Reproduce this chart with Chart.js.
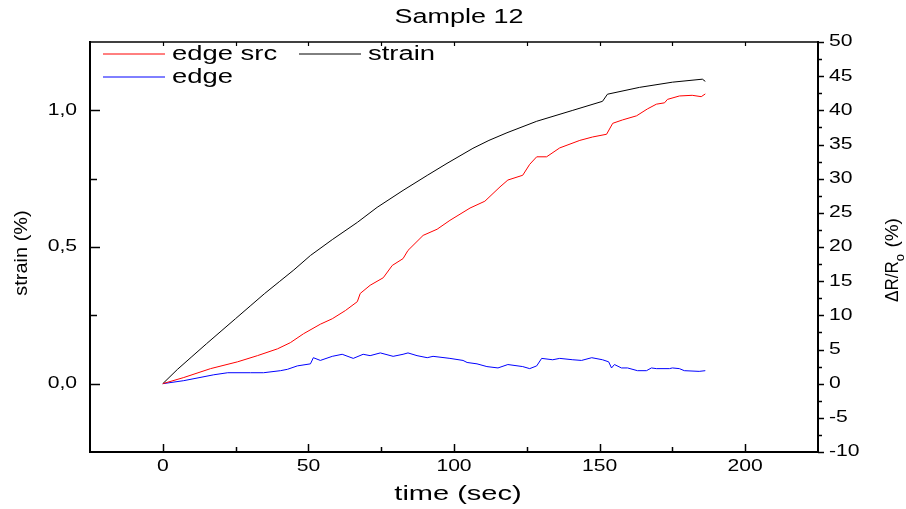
<!DOCTYPE html>
<html>
<head>
<meta charset="utf-8">
<script src="https://cdn.jsdelivr.net/npm/chart.js@4/dist/chart.umd.min.js"></script>
<style>
html,body{margin:0;padding:0;background:#fff;}
#wrap{width:906px;height:509px;position:relative;}
</style>
</head>
<body>
<div id="wrap"><canvas id="c" width="906" height="509"></canvas></div>
<script>
// ---- data ----
const strainTime   = [0,5,10,15,20,25,30,35,40,45,50.7,58.2,66.8,73.6,82.5,90.8,97.6,106.5,112,118.2,128.4,140.8,151.0,152.7,163.7,175.0,185.3,186.3];
const strainValues = [0,0.052,0.099,0.146,0.192,0.238,0.284,0.330,0.373,0.416,0.469,0.527,0.590,0.645,0.707,0.762,0.806,0.861,0.890,0.918,0.960,1.000,1.033,1.059,1.084,1.103,1.114,1.106];

const edgeSrcTime   = [0,7.2,16.4,25.7,32.5,39.4,43.8,48.3,54.1,58.2,62.7,66.8,67.8,71.2,75.7,78.8,82.5,84.2,89.4,94.2,98.6,105.5,110.6,115.8,118.5,123.6,126.0,128.4,131.8,136.3,143.2,147.6,152.4,154.5,157.9,162.7,166.4,169.5,172.3,173.3,177.4,181.8,184.9,186.3];
const edgeSrcValues = [0,0.9,2.2,3.2,4.1,5.1,6.0,7.3,8.7,9.5,10.7,12.0,13.2,14.4,15.5,17.3,18.3,19.5,21.7,22.6,23.9,25.7,26.7,28.8,29.8,30.5,32.1,33.2,33.2,34.5,35.6,36.1,36.5,38.1,38.6,39.2,40.2,40.9,41.1,41.6,42.1,42.2,42.0,42.4];

const edgeTime   = [0,7.2,17.5,22.3,30.1,34.6,40.4,42.8,46.2,50.7,51.7,54.1,58.2,61.6,65.4,68.8,71.2,74.7,79.1,82.5,84.2,87.3,90.8,92.8,98.6,103.1,104.5,107.9,111.3,115.1,118.5,123.6,126.0,128.4,130.1,133.9,136.3,140.8,143.8,147.3,151.0,153.1,154.1,155.1,157.5,159.6,163.0,166.1,167.8,169.5,174.0,175.0,177.4,179.1,184.2,186.3];
const edgeValues = [0,0.44,1.3,1.6,1.6,1.6,1.9,2.1,2.6,2.9,3.8,3.4,4.0,4.3,3.7,4.3,4.1,4.5,4.0,4.3,4.5,4.1,3.8,4.0,3.7,3.4,3.1,2.9,2.5,2.3,2.8,2.5,2.2,2.6,3.7,3.5,3.7,3.5,3.4,3.8,3.5,3.2,2.3,2.8,2.3,2.3,1.9,1.9,2.3,2.2,2.2,2.3,2.2,1.9,1.8,1.9];

const xTicks  = [0,50,100,150,200];
const xTickLabels = ['0','50','100','150','200'];
const yTicks  = [0,0.5,1.0];
const yTickLabels = ['0,0','0,5','1,0'];
const y2Ticks = [-10,-5,0,5,10,15,20,25,30,35,40,45,50];
const y2TickLabels = ['-10','-5','0','5','10','15','20','25','30','35','40','45','50'];

const titleText = 'Sample 12';
const xTitle = 'time (sec)';
const yTitle = 'strain (%)';
const seriesNames = ['edge src','strain','edge'];

function pts(t,v){ return t.map((x,i)=>({x:x,y:v[i]})); }

const FONT = '"Liberation Sans", Arial, sans-serif';
function txt(ctx,s,x,y,size,align,sx,rot){
  ctx.save();
  ctx.translate(x,y);
  if(rot) ctx.rotate(rot);
  ctx.scale(sx,1);
  ctx.font = size+'px '+FONT;
  ctx.textAlign = align;
  ctx.textBaseline = 'middle';
  ctx.fillStyle = '#000';
  ctx.fillText(s,0,0);
  ctx.restore();
}
function line(ctx,x1,y1,x2,y2,w,c){
  ctx.beginPath(); ctx.lineWidth=w; ctx.strokeStyle=c||'#000';
  ctx.moveTo(x1,y1); ctx.lineTo(x2,y2); ctx.stroke();
}

const decor = {
  id:'decor',
  afterDraw(chart){
    const ctx = chart.ctx;
    const a = chart.chartArea;
    const xs = chart.scales.x, ys = chart.scales.y, y2 = chart.scales.y2;
    ctx.save();
    ctx.lineCap = 'butt';
    // frame
    line(ctx,a.left,a.top,a.right,a.top,1.5);
    line(ctx,a.left,a.top-1,a.left,a.bottom+1,2);
    line(ctx,a.left-1,a.bottom,a.right+1,a.bottom,2);
    line(ctx,a.right,a.top-1,a.right,a.bottom+1,2);
    // x ticks (bottom inward, top inward short)
    for(let v=-25; v<=225; v+=25){
      const px = Math.round(xs.getPixelForValue(v))+0.5;
      if(v===-25||v===225) continue;
      const major = (v%50===0);
      line(ctx,px,a.bottom,px,a.bottom-(major?8:5),1.5);
      line(ctx,px,a.top,px,a.top+4,1.2);
    }
    // left ticks inward
    for(let v=-0.25; v<=1.2501; v+=0.25){
      const py = Math.round(ys.getPixelForValue(v))+0.5;
      if(Math.abs(v+0.25)<1e-6||Math.abs(v-1.25)<1e-6) continue;
      const major = Math.abs(v*2-Math.round(v*2))<1e-6;
      line(ctx,a.left,py,a.left+(major?10:7),py,1.5);
    }
    // right ticks outward
    for(let v=-10; v<=50.001; v+=2.5){
      const py = Math.round(y2.getPixelForValue(v))+0.5;
      const major = (Math.abs(v%5)<1e-6);
      line(ctx,a.right,py,a.right+(major?6:4),py,1.5);
    }
    // tick labels
    xTicks.forEach((v,i)=>txt(ctx,xTickLabels[i],xs.getPixelForValue(v),a.bottom+15,16,'center',1.32));
    yTicks.forEach((v,i)=>txt(ctx,yTickLabels[i],a.left-13,ys.getPixelForValue(v),16,'right',1.32));
    y2Ticks.forEach((v,i)=>txt(ctx,y2TickLabels[i],a.right+11,y2.getPixelForValue(v),16,'left',1.32));
    // titles
    txt(ctx,titleText,459,17,20,'center',1.35);
    txt(ctx,xTitle,458,494,20,'center',1.45);
    txt(ctx,yTitle,22,253,19,'center',1.05,-Math.PI/2);
    // right axis title: ΔR/R_o (%)
    ctx.save();
    ctx.translate(893,302);
    ctx.rotate(-Math.PI/2);
    ctx.fillStyle='#000';
    ctx.textBaseline='middle';
    ctx.textAlign='left';
    ctx.font='19px '+FONT;
    let p='\u0394R/R';
    ctx.save(); ctx.scale(0.9,1); ctx.fillText(p,0,0); ctx.restore();
    let w = ctx.measureText(p).width*0.9;
    ctx.font='13px '+FONT;
    ctx.fillText('o',w,7);
    w += ctx.measureText('o').width+1;
    ctx.font='19px '+FONT;
    ctx.fillText(' (%)',w,0);
    ctx.restore();
    // legend
    const ds = chart.data.datasets;
    const leg = [
      {ds:0,x:103,y:54},
      {ds:1,x:299,y:54},
      {ds:2,x:103,y:77}
    ];
    leg.forEach(l=>{
      const d = ds[l.ds];
      line(ctx,l.x,l.y,l.x+62,l.y,1,d.borderColor);
      txt(ctx,d.label,l.x+69,l.y,20,'left',1.37);
    });
    ctx.restore();
  }
};

new Chart(document.getElementById('c'),{
  type:'line',
  data:{
    datasets:[
      {label:seriesNames[0],data:pts(edgeSrcTime,edgeSrcValues),yAxisID:'y2',borderColor:'#ff0000',borderWidth:1,pointRadius:0,tension:0},
      {label:seriesNames[1],data:pts(strainTime,strainValues),yAxisID:'y',borderColor:'#000000',borderWidth:1,pointRadius:0,tension:0},
      {label:seriesNames[2],data:pts(edgeTime,edgeValues),yAxisID:'y2',borderColor:'#0000ff',borderWidth:1,pointRadius:0,tension:0}
    ]
  },
  options:{
    responsive:false,
    animation:false,
    devicePixelRatio:1,
    layout:{padding:{left:90,right:88,top:42,bottom:57}},
    plugins:{legend:{display:false},title:{display:false},tooltip:{enabled:false}},
    scales:{
      x:{type:'linear',min:-25,max:225,display:false},
      y:{type:'linear',min:-0.25,max:1.25,display:false},
      y2:{type:'linear',min:-10,max:50,display:false,position:'right'}
    }
  },
  plugins:[decor]
});
</script>
</body>
</html>
